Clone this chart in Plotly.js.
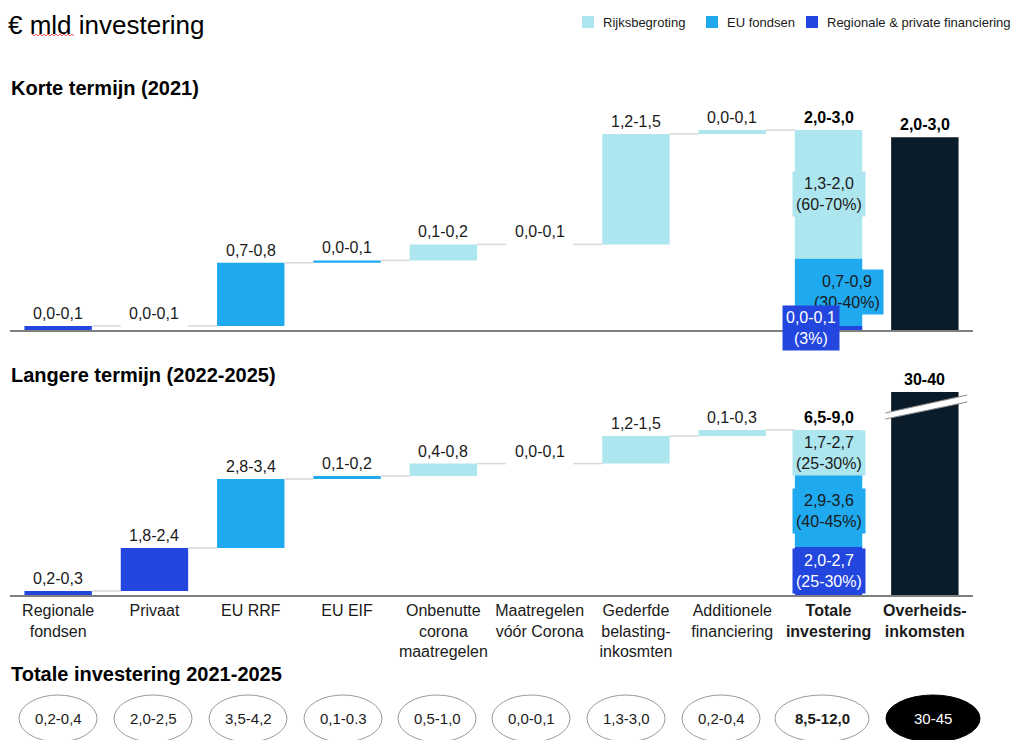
<!DOCTYPE html>
<html><head><meta charset="utf-8">
<script src="https://cdn.plot.ly/plotly-3.0.1.min.js"></script>
<style>html,body{margin:0;padding:0;background:#fff}#chart{width:1011px;height:740px}</style>
</head><body><div id="chart"></div>
<script>
// ---------- DATA ----------
const categories = ['Regionale<br>fondsen', 'Privaat', 'EU RRF', 'EU EIF', 'Onbenutte<br>corona<br>maatregelen',
  'Maatregelen<br>vóór Corona', 'Gederfde<br>belasting-<br>inkosmten', 'Additionele<br>financiering',
  '<b>Totale<br>investering</b>', '<b>Overheids-<br>inkomsten</b>'];
const stepSources = ['regional', 'regional', 'eu', 'eu', 'rijks', 'rijks', 'rijks', 'rijks'];
const sourceKeys = ['rijks', 'eu', 'regional'];
const sourceNames = ['Rijksbegroting', 'EU fondsen', 'Regionale & private financiering'];
const sourceColors = ['#ADE6EE', '#1FA9EF', '#2346DF'];
const incomeColor = '#0A1B29';
const stackOrder = ['regional', 'eu', 'rijks']; // bottom -> top in the total column

// Korte termijn (2021), € mld
const shortSteps = [0.05, 0.00, 0.79, 0.03, 0.20, 0.00, 1.38, 0.05];
const shortStepLabels = ['0,0-0,1', '0,0-0,1', '0,7-0,8', '0,0-0,1', '0,1-0,2', '0,0-0,1', '1,2-1,5', '0,0-0,1'];
const shortTotalParts = [0.05, 0.84, 1.61];
const shortTotalPartLabels = ['0,0-0,1<br>(3%)', '0,7-0,9<br>(30-40%)', '1,3-2,0<br>(60-70%)'];
const shortTotalLabel = '2,0-3,0';
const shortIncome = 2.41;
const shortIncomeLabel = '2,0-3,0';

// Langere termijn (2022-2025), € mld
const longSteps = [0.20, 2.15, 3.45, 0.15, 0.62, 0.00, 1.38, 0.30];
const longStepLabels = ['0,2-0,3', '1,8-2,4', '2,8-3,4', '0,1-0,2', '0,4-0,8', '0,0-0,1', '1,2-1,5', '0,1-0,3'];
const longTotalParts = [2.40, 3.60, 2.25];
const longTotalPartLabels = ['2,0-2,7<br>(25-30%)', '2,9-3,6<br>(40-45%)', '1,7-2,7<br>(25-30%)'];
const longTotalLabel = '6,5-9,0';
const longIncome = 10.15; // drawn on a broken axis
const longIncomeLabel = '30-40';

// Totale investering 2021-2025
const totalLabels = ['0,2-0,4', '2,0-2,5', '3,5-4,2', '0,1-0.3', '0,5-1,0', '0,0-0,1', '1,3-3,0', '0,2-0,4', '8,5-12,0', '30-45'];

// ---------- LAYOUT HELPERS ----------
const W = 1011, H = 740;
const FONT = 'Liberation Sans, Arial, sans-serif';
const TXT = '#1a1a1a';
const px = x => x / W;
const py = y => 1 - y / H;

const traces = [];
const annotations = [];
const shapes = [];

function buildPanel(steps, stepLabels, parts, partLabels, totalLabel, income, incomeLabel, xa, ya, partShifts) {
  const bases = [], cum = [];
  let c = 0;
  steps.forEach(v => { bases.push(c); c += v; cum.push(c); });
  sourceKeys.forEach((key, k) => {
    const xs = [], ys = [], bs = [];
    steps.forEach((v, i) => { if (stepSources[i] === key && v > 0) { xs.push(i); ys.push(v); bs.push(bases[i]); } });
    const pi = stackOrder.indexOf(key);
    let pb = 0; for (let j = 0; j < pi; j++) pb += parts[j];
    xs.push(8); ys.push(parts[pi]); bs.push(pb);
    traces.push({type: 'bar', x: xs, y: ys, base: bs, width: 0.7, marker: {color: sourceColors[k], line: {width: 0}},
      name: sourceNames[k], xaxis: xa, yaxis: ya, showlegend: false, hoverinfo: 'skip'});
  });
  traces.push({type: 'bar', x: [9], y: [income], base: [0], width: 0.7, marker: {color: incomeColor, line: {width: 0}},
    xaxis: xa, yaxis: ya, showlegend: false, hoverinfo: 'skip'});
  // connectors
  const cx = [], cy = [];
  for (let i = 0; i < steps.length; i++) { cx.push(i + 0.35, i + 0.65, null); cy.push(cum[i], cum[i], null); }
  traces.push({type: 'scatter', mode: 'lines', x: cx, y: cy, line: {color: '#d6d6d6', width: 1.5},
    xaxis: xa, yaxis: ya, showlegend: false, hoverinfo: 'skip'});
  // value labels
  steps.forEach((v, i) => annotations.push({x: i, y: cum[i], xref: xa, yref: ya, text: stepLabels[i], showarrow: false,
    xanchor: 'center', yanchor: 'bottom', yshift: 2, font: {family: FONT, size: 16, color: TXT}}));
  const tot = parts.reduce((a, b) => a + b, 0);
  annotations.push({x: 8, y: tot, xref: xa, yref: ya, text: '<b>' + totalLabel + '</b>', showarrow: false,
    xanchor: 'center', yanchor: 'bottom', yshift: 2, font: {family: FONT, size: 16, color: '#000'}});
  annotations.push({x: 9, y: income, xref: xa, yref: ya, text: '<b>' + incomeLabel + '</b>', showarrow: false,
    xanchor: 'center', yanchor: 'bottom', yshift: 2, font: {family: FONT, size: 16, color: '#000'}});
  // total part labels (top segment first so the lower boxes are drawn on top)
  const mids = [];
  let pb = 0;
  parts.forEach(v => { mids.push(pb + v / 2); pb += v; });
  for (let j = parts.length - 1; j >= 0; j--) {
    const key = stackOrder[j];
    const col = sourceColors[sourceKeys.indexOf(key)];
    annotations.push({x: 8, y: mids[j], xref: xa, yref: ya, text: partLabels[j], showarrow: false,
      xanchor: 'center', yanchor: 'middle', xshift: partShifts[j], bgcolor: col, borderpad: 3,
      font: {family: FONT, size: 16, color: key === 'regional' ? '#ffffff' : TXT}});
  }
}

buildPanel(shortSteps, shortStepLabels, shortTotalParts, shortTotalPartLabels, shortTotalLabel, shortIncome, shortIncomeLabel, 'x', 'y', [-18, 18, 0]);
buildPanel(longSteps, longStepLabels, longTotalParts, longTotalPartLabels, longTotalLabel, longIncome, longIncomeLabel, 'x2', 'y2', [0, 0, 0]);

// axis break on the long-term income bar
shapes.push({type: 'path', xref: 'x2', yref: 'y2', path: 'M 8.59 8.8 L 9.44 9.65 L 9.44 10.0 L 8.59 9.1 Z',
  fillcolor: '#ffffff', line: {width: 0}});
shapes.push({type: 'line', xref: 'x2', yref: 'y2', x0: 8.59, y0: 9.1, x1: 9.44, y1: 10.0, line: {color: '#8c8c8c', width: 1.2}});
shapes.push({type: 'line', xref: 'x2', yref: 'y2', x0: 8.59, y0: 8.8, x1: 9.44, y1: 9.65, line: {color: '#8c8c8c', width: 1.2}});

// section headings
[['Korte termijn (2021)', 88], ['Langere termijn (2022-2025)', 375], ['Totale investering 2021-2025', 674]].forEach(([t, y]) =>
  annotations.push({x: px(9), y: py(y), xref: 'paper', yref: 'paper', xanchor: 'left', yanchor: 'middle', showarrow: false,
    text: '<b>' + t + '</b>', font: {family: FONT, size: 20, color: '#000'}}));

// legend (manual)
const legendSquares = [582, 706, 806];
legendSquares.forEach((x0, k) => {
  shapes.push({type: 'rect', xref: 'paper', yref: 'paper', x0: px(x0), x1: px(x0 + 12), y0: py(28), y1: py(16),
    fillcolor: sourceColors[k], line: {width: 0}});
  annotations.push({x: px(x0 + 19), y: py(22), xref: 'paper', yref: 'paper', xanchor: 'left', yanchor: 'middle',
    showarrow: false, text: sourceNames[k], font: {family: FONT, size: 13, color: TXT}});
});

// red spell-check squiggle under "mld"
let sq = 'M ' + px(32) + ' ' + py(34);
for (let x = 32, k = 0; x < 74; x += 2, k++) sq += ' L ' + px(x + 2) + ' ' + py(k % 2 ? 34 : 36);
shapes.push({type: 'path', xref: 'paper', yref: 'paper', path: sq, line: {color: '#e03030', width: 0.8}});

// ovals with totals 2021-2025
const ovalCenters = [58, 153, 248, 343, 437, 531, 626, 721, 822, 933];
totalLabels.forEach((t, i) => {
  const w = i >= 8 ? 94 : 78;
  const last = i === 9;
  shapes.push({type: 'circle', xref: 'paper', yref: 'paper', x0: px(ovalCenters[i] - w / 2), x1: px(ovalCenters[i] + w / 2),
    y0: py(742), y1: py(695), fillcolor: last ? '#000000' : '#ffffff', line: {color: last ? '#000' : '#9a9a9a', width: 1}});
  annotations.push({x: px(ovalCenters[i]), y: py(718), xref: 'paper', yref: 'paper', showarrow: false,
    xanchor: 'center', yanchor: 'middle',
    text: i === 8 ? '<b>' + t + '</b>' : t, font: {family: FONT, size: 15, color: last ? '#fff' : TXT}});
});

const xdom = [px(10), px(973)];
const layout = {
  width: W, height: H,
  margin: {l: 0, r: 0, t: 0, b: 0},
  paper_bgcolor: '#fff', plot_bgcolor: 'rgba(0,0,0,0)',
  barmode: 'overlay',
  showlegend: false,
  title: {text: '€ mld investering', x: px(8), xanchor: 'left', y: py(25), yanchor: 'middle',
    font: {family: FONT, size: 26, color: '#000'}},
  xaxis: {domain: xdom, range: [-0.5, 9.5], anchor: 'y', showline: true, linecolor: '#7f7f7f', linewidth: 1.5,
    showticklabels: false, ticks: '', showgrid: false, zeroline: false, fixedrange: true},
  yaxis: {domain: [py(330), py(100)], range: [0, 230 / 80], visible: false, fixedrange: true},
  xaxis2: {domain: xdom, range: [-0.5, 9.5], anchor: 'y2', showline: true, linecolor: '#7f7f7f', linewidth: 1.5,
    tickmode: 'array', tickvals: categories.map((c, i) => i), ticktext: categories, ticks: '',
    tickfont: {family: FONT, size: 16, color: TXT}, showgrid: false, zeroline: false, fixedrange: true},
  yaxis2: {domain: [py(595), py(380)], range: [0, 215 / 20], visible: false, fixedrange: true},
  annotations: annotations,
  shapes: shapes
};
Plotly.newPlot('chart', traces, layout, {staticPlot: true, displayModeBar: false});
</script>
</body></html>
